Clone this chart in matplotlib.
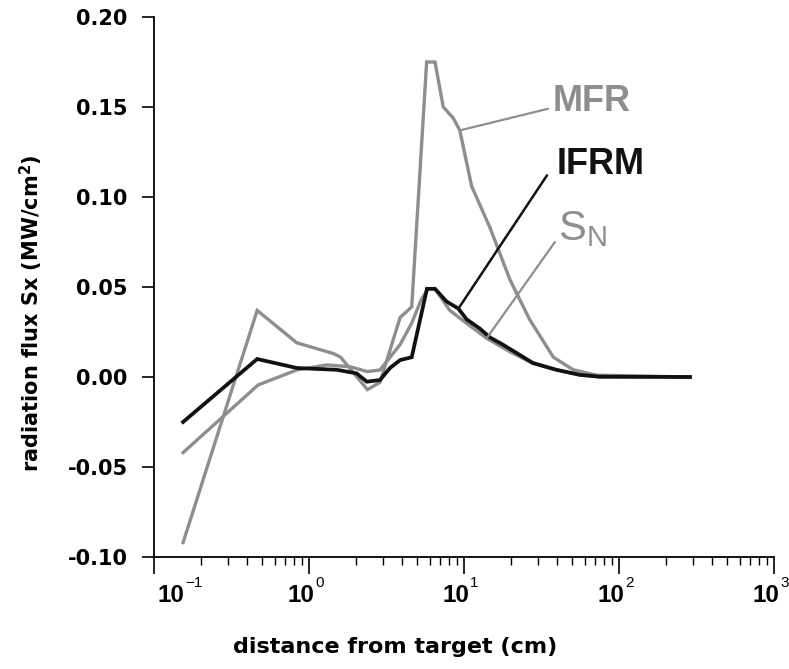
import matplotlib
matplotlib.use("Agg")
import matplotlib.pyplot as plt
from matplotlib.ticker import FixedLocator, FuncFormatter, LogLocator, NullFormatter
import numpy as np

# ---- data: radiation flux Sx (MW/cm^2) vs distance from target (cm) ----
mfr_x = [0.154, 0.463, 0.834, 1.44, 1.6, 2.38, 2.87, 3.87, 4.6, 5.74, 6.5,
         7.35, 8.5, 9.4, 11.2, 14.7, 19.8, 26.5, 37.7, 50.7, 71.8, 287]
mfr_y = [-0.092, 0.037, 0.019, 0.013, 0.011, -0.007, -0.003, 0.033, 0.039,
         0.175, 0.175, 0.150, 0.144, 0.137, 0.106, 0.083, 0.054, 0.032,
         0.011, 0.004, 0.001, 0.0]

ifrm_x = [0.154, 0.463, 0.834, 1.51, 2.03, 2.36, 2.87, 3.33, 3.87, 4.6, 5.77,
          6.5, 7.7, 9.2, 10.4, 12.6, 14.7, 17.8, 27.8, 39.5, 56, 75, 287]
ifrm_y = [-0.025, 0.010, 0.005, 0.004, 0.002, -0.0026, -0.0017, 0.005, 0.0094,
          0.011, 0.049, 0.049, 0.042, 0.038, 0.032, 0.027, 0.022, 0.018,
          0.0078, 0.004, 0.0012, 0.0002, 0.0]

sn_x = [0.154, 0.47, 0.834, 1.3, 1.84, 2.38, 2.87, 3.87, 4.6, 5.3, 5.87, 6.5,
        8.1, 10.4, 14.0, 19.8, 27.8, 39.5, 56, 75, 287]
sn_y = [-0.042, -0.0044, 0.0039, 0.0067, 0.0057, 0.003, 0.0039, 0.018, 0.030,
        0.043, 0.049, 0.049, 0.037, 0.0298, 0.0215, 0.014, 0.0076, 0.0039,
        0.0011, 0.0, 0.0]

y_ticks = [-0.10, -0.05, 0.00, 0.05, 0.10, 0.15, 0.20]
x_decades = [-1, 0, 1, 2, 3]
x_decade_labels = ["-1", "0", "1", "2", "3"]

plt.rcParams["mathtext.fontset"] = "custom"
plt.rcParams["mathtext.rm"] = "Liberation Sans"
plt.rcParams["mathtext.sf"] = "Liberation Sans"
plt.rcParams["mathtext.it"] = "Liberation Sans:italic"
plt.rcParams["mathtext.bf"] = "Liberation Sans:bold"

GREY = "#8e8e8e"
BLACK = "#111111"

fig = plt.figure(figsize=(7.89, 6.69), dpi=100)
ax = fig.add_axes([154 / 789, 1 - 557 / 669, (774 - 154) / 789, (557 - 17) / 669])

ax.plot(mfr_x, mfr_y, color=GREY, lw=2.4, solid_joinstyle="miter", zorder=2)
ax.plot(sn_x, sn_y, color=GREY, lw=2.4, solid_joinstyle="miter", zorder=2)
ax.plot(ifrm_x, ifrm_y, color=BLACK, lw=2.7, solid_joinstyle="miter", zorder=3)

ax.set_xscale("log")
ax.set_xlim(0.1, 1000)
ax.set_ylim(-0.10, 0.20)

for s in ("top", "right"):
    ax.spines[s].set_visible(False)
for s in ("left", "bottom"):
    ax.spines[s].set_linewidth(1.3)
    ax.spines[s].set_color("black")

# y axis
ax.yaxis.set_major_locator(FixedLocator(y_ticks))
ax.yaxis.set_major_formatter(FuncFormatter(lambda v, p: f"{v:.2f}"))
ax.tick_params(axis="y", which="major", direction="out", length=9, width=1.2,
               pad=10, labelsize=15)
for lab in ax.get_yticklabels():
    lab.set_fontfamily("DejaVu Sans")
    lab.set_fontweight("bold")

# x axis (log decades); labels are drawn as "10" plus a small exponent
ax.xaxis.set_major_locator(FixedLocator([10.0 ** d for d in x_decades]))
ax.xaxis.set_major_formatter(NullFormatter())
ax.xaxis.set_minor_locator(LogLocator(base=10, subs=np.arange(2, 10)))
ax.xaxis.set_minor_formatter(NullFormatter())
ax.tick_params(axis="x", which="major", direction="out", length=12, width=1.2)
ax.tick_params(axis="x", which="minor", direction="out", length=6, width=1.0)

shift_pt = [18.0, 0, 0, 0, 0]   # first label nudged clear of the y-axis labels
for d, exp, sh in zip(x_decades, x_decade_labels, shift_pt):
    ax.annotate("10", xy=(10.0 ** d, 0), xycoords=("data", "axes fraction"),
                xytext=(3.6 + sh, -28.0), textcoords="offset points",
                ha="right", va="center", fontsize=17.5, fontweight="bold",
                family="Liberation Sans", annotation_clip=False)
    ax.annotate(exp.replace("-", "\u2212"), xy=(10.0 ** d, 0),
                xycoords=("data", "axes fraction"),
                xytext=(4.4 + sh, -18.5), textcoords="offset points",
                ha="left", va="center", fontsize=11,
                family="Liberation Sans", annotation_clip=False)

ax.set_xlabel("distance from target (cm)", fontsize=16, fontweight="bold",
              family="DejaVu Sans")
ax.xaxis.set_label_coords(0.389, -0.148)
ax.set_ylabel(r"radiation flux Sx (MW/cm$^\mathregular{2}$)", fontsize=15,
              fontweight="bold", family="DejaVu Sans")
ax.yaxis.set_label_coords(-0.175, 0.452)

# curve labels with leader lines
def leader(x0, y0, x1, y1, color, lw):
    ax.annotate("", xy=(x0, y0), xytext=(x1, y1),
                arrowprops=dict(arrowstyle="-", color=color, lw=lw,
                                shrinkA=0, shrinkB=0))

i_m = mfr_x.index(9.4)
leader(mfr_x[i_m], mfr_y[i_m], 34.8, 0.149, GREY, 1.6)
ax.text(37.5, 0.153, "MFR", color=GREY, fontsize=26, fontweight="bold",
        family="Liberation Sans", va="center", ha="left")

i_i = ifrm_x.index(9.2)
leader(ifrm_x[i_i], ifrm_y[i_i], 34.3, 0.112, BLACK, 1.8)
ax.text(39.8, 0.118, "IFRM", color=BLACK, fontsize=26, fontweight="bold",
        family="Liberation Sans", va="center", ha="left")

i_s = sn_x.index(14.0)
leader(sn_x[i_s], sn_y[i_s], 38.6, 0.075, GREY, 1.6)
ax.text(40.2, 0.083, r"$\mathsf{S_N}$", color=GREY, fontsize=30,
        va="center", ha="left")

fig.savefig("out.png", dpi=100)
